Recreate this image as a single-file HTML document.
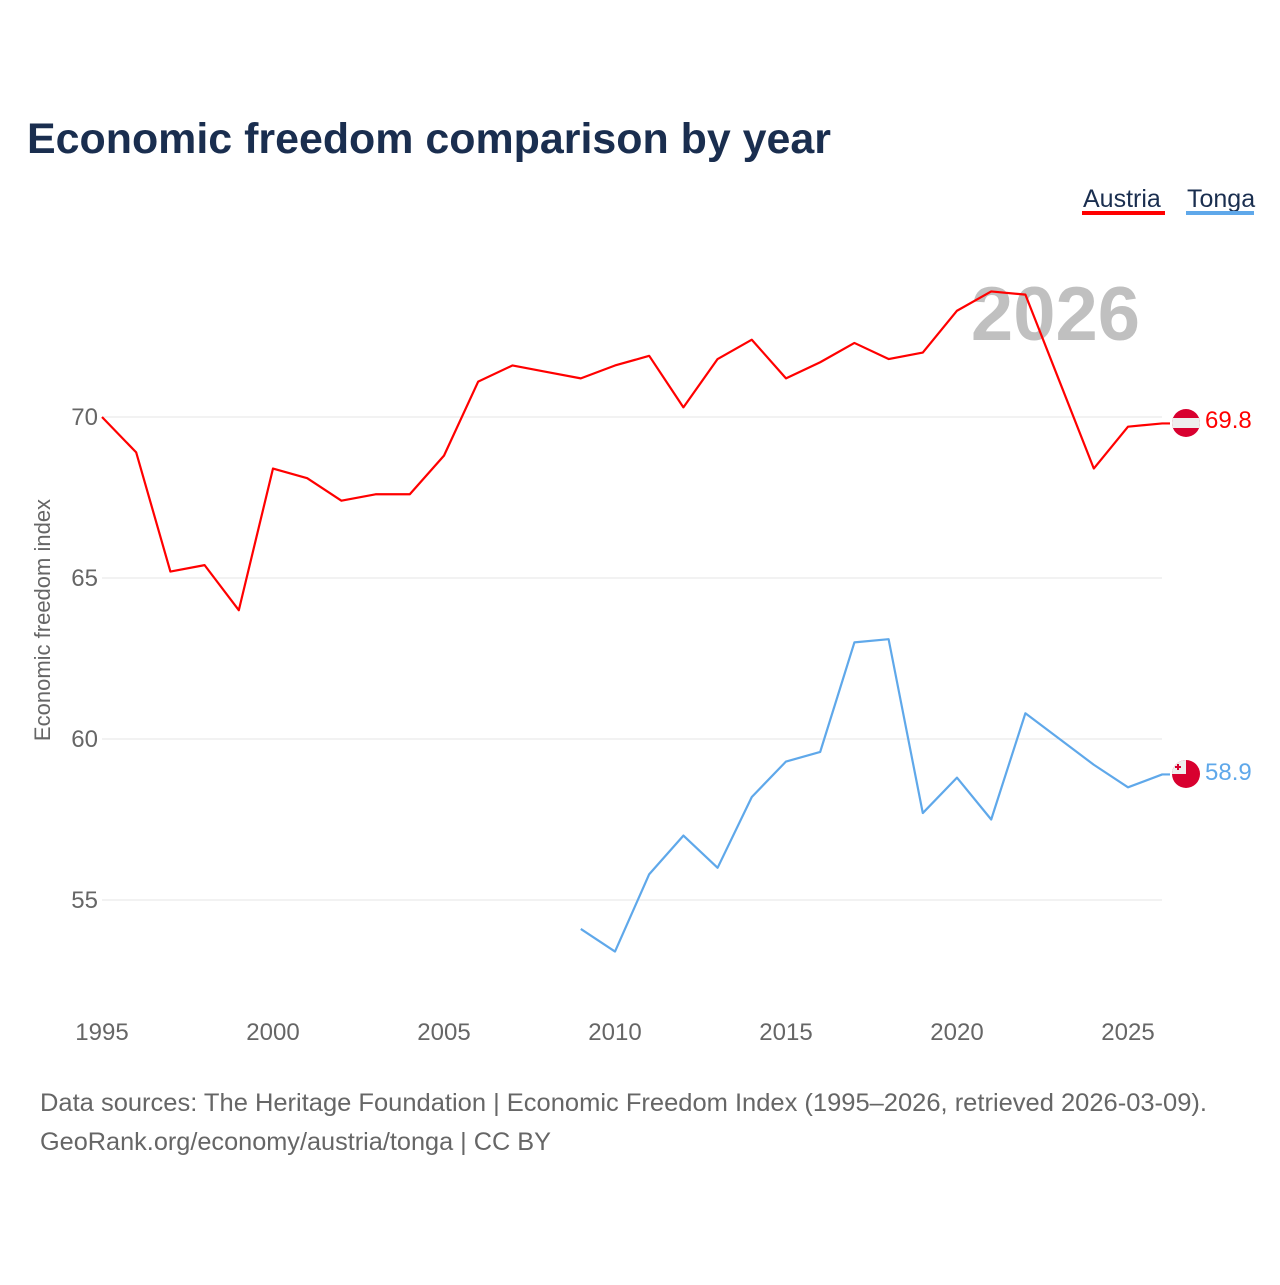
<!DOCTYPE html>
<html><head><meta charset="utf-8"><style>
body{margin:0;background:#fff;width:1280px;height:1280px;overflow:hidden;font-family:"Liberation Sans",sans-serif}
</style></head><body>
<svg width="1280" height="1280" xmlns="http://www.w3.org/2000/svg">
<text x="27" y="153" font-size="43" font-weight="bold" fill="#1a2e4f" textLength="804" lengthAdjust="spacingAndGlyphs">Economic freedom comparison by year</text>
<g><text x="1083" y="207" font-size="25" fill="#1a2e4f">Austria</text><rect x="1082" y="211" width="83" height="4" fill="#ff0000"/></g>
<g><text x="1187" y="207" font-size="25" fill="#1a2e4f">Tonga</text><rect x="1186" y="211" width="68" height="4" fill="#5fa8ea"/></g>
<text x="1140" y="340" text-anchor="end" font-size="76" font-weight="bold" fill="#c0c0c0">2026</text>
<g id="grid"></g><g id="xt"></g>
<text transform="translate(50,620) rotate(-90)" text-anchor="middle" font-size="22" fill="#666">Economic freedom index</text>
<g id="lines"></g>
<g><clipPath id="ca"><circle cx="1186" cy="423" r="14"/></clipPath><g clip-path="url(#ca)"><rect x="1170" y="409" width="32" height="28" fill="#d8002f"/><rect x="1170" y="418" width="32" height="10" fill="#eee"/></g></g>
<text x="1205" y="428" font-size="24" fill="#ff0000">69.8</text>
<g><clipPath id="ct"><circle cx="1186" cy="774" r="14"/></clipPath><g clip-path="url(#ct)"><rect x="1170" y="760" width="32" height="28" fill="#d8002f"/><rect x="1170" y="760" width="16" height="14" fill="#eee"/><rect x="1177" y="764" width="2" height="6" fill="#d8002f"/><rect x="1175" y="766" width="6" height="2" fill="#d8002f"/></g></g>
<text x="1205" y="780" font-size="24" fill="#5fa8ea">58.9</text>
<text x="40" y="1111" font-size="25" fill="#666" textLength="1167" lengthAdjust="spacingAndGlyphs">Data sources: The Heritage Foundation | Economic Freedom Index (1995–2026, retrieved 2026-03-09).</text>
<text x="40" y="1150" font-size="25" fill="#666" textLength="511" lengthAdjust="spacingAndGlyphs">GeoRank.org/economy/austria/tonga | CC BY</text>
</svg>
<script>
const austriaYears=[1995,1996,1997,1998,1999,2000,2001,2002,2003,2004,2005,2006,2007,2008,2009,2010,2011,2012,2013,2014,2015,2016,2017,2018,2019,2020,2021,2022,2023,2024,2025,2026];
const austriaValues=[70.0,68.9,65.2,65.4,64.0,68.4,68.1,67.4,67.6,67.6,68.8,71.1,71.6,71.4,71.2,71.6,71.9,70.3,71.8,72.4,71.2,71.7,72.3,71.8,72.0,73.3,73.9,73.8,71.1,68.4,69.7,69.8];
const tongaYears=[2009,2010,2011,2012,2013,2014,2015,2016,2017,2018,2019,2020,2021,2022,2023,2024,2025,2026];
const tongaValues=[54.1,53.4,55.8,57.0,56.0,58.2,59.3,59.6,63.0,63.1,57.7,58.8,57.5,60.8,60.0,59.2,58.5,58.9];
const yTicks=[55,60,65,70];
const xTicks=[1995,2000,2005,2010,2015,2020,2025];
const NS='http://www.w3.org/2000/svg';
const xs=y=>102+(y-1995)*34.2;
const ys=v=>417+(70-v)*32.2;
function mk(t,a,p){const e=document.createElementNS(NS,t);for(const k in a)e.setAttribute(k,a[k]);p.appendChild(e);return e;}
const g=document.getElementById('grid');
yTicks.forEach(v=>{
 const l=mk('line',{x1:102,x2:1162,y1:ys(v),y2:ys(v),stroke:'#e6e6e6','stroke-width':1},g);
 
 
 const t=mk('text',{x:98,y:ys(v)+8,'text-anchor':'end','font-size':24,fill:'#666'},g);t.textContent=v;
 
 
});
const xt=document.getElementById('xt');
xTicks.forEach(y=>{
 const t=mk('text',{x:xs(y),y:1040,'text-anchor':'middle','font-size':24,fill:'#666'},xt);t.textContent=y;
 
 
});
const lg=document.getElementById('lines');
function line(yrs,vals,col,name){
 let d=yrs.map((y,i)=>(i?'L':'M')+xs(y)+','+ys(vals[i])).join(' ');
 d+=' L1170,'+ys(vals[vals.length-1]);
 const p=mk('path',{d:d,fill:'none',stroke:col,'stroke-width':2.2,'stroke-linejoin':'round'},lg);
 
 
}
line(austriaYears,austriaValues,'#ff0000','austria-line');
line(tongaYears,tongaValues,'#5fa8ea','tonga-line');
</script>
</body></html>
